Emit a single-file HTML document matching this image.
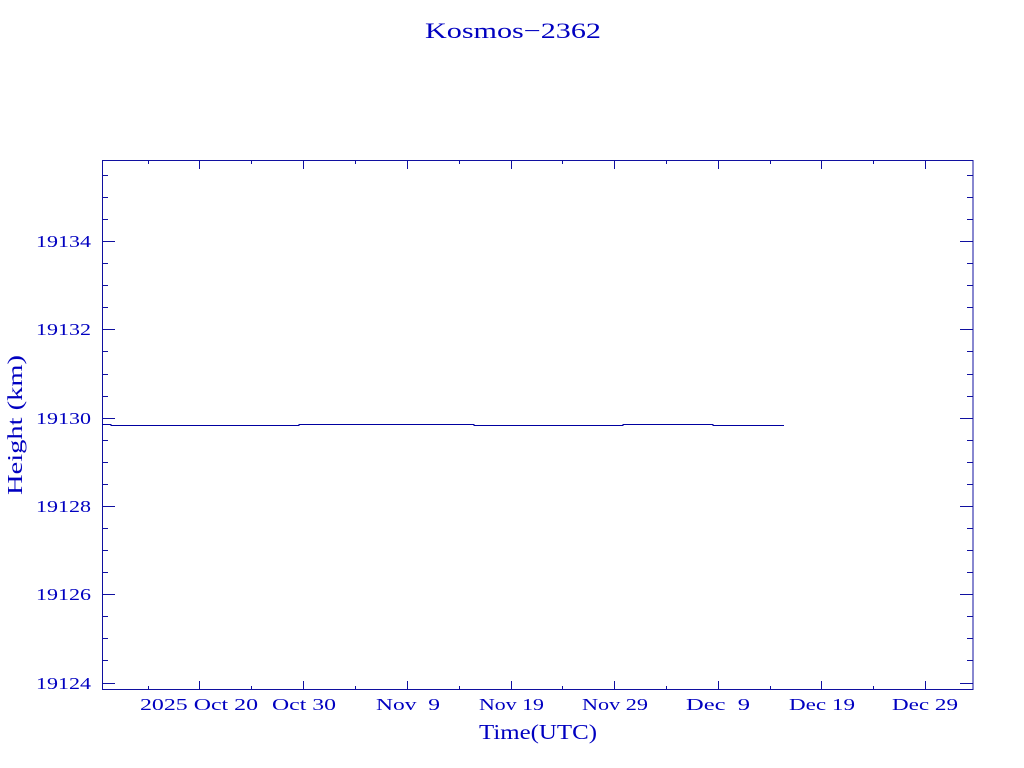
<!DOCTYPE html>
<html><head><style>body{margin:0;background:#fff}svg{display:block}</style></head><body>
<svg width="1024" height="768" xmlns="http://www.w3.org/2000/svg" font-family="Liberation Serif, serif" fill="#0000c0">
<rect width="1024" height="768" fill="#fff"/>
<g stroke="#1010a0" stroke-width="1" fill="none">
<rect x="102.5" y="160.5" width="870.5" height="529"/>
<path d="
M102 241.5h13M973 241.5h-13
M102 329.5h13M973 329.5h-13
M102 418.5h13M973 418.5h-13
M102 506.5h13M973 506.5h-13
M102 594.5h13M973 594.5h-13
M102 683.5h13M973 683.5h-13
M102 175.5h6M973 175.5h-6M102 197.5h6M973 197.5h-6M102 219.5h6M973 219.5h-6
M102 263.5h6M973 263.5h-6M102 285.5h6M973 285.5h-6M102 307.5h6M973 307.5h-6
M102 351.5h6M973 351.5h-6M102 374.5h6M973 374.5h-6M102 396.5h6M973 396.5h-6
M102 440.5h6M973 440.5h-6M102 462.5h6M973 462.5h-6M102 484.5h6M973 484.5h-6
M102 528.5h6M973 528.5h-6M102 550.5h6M973 550.5h-6M102 572.5h6M973 572.5h-6
M102 616.5h6M973 616.5h-6M102 638.5h6M973 638.5h-6M102 660.5h6M973 660.5h-6
M199.5 690v-9M199.5 160v9M303.5 690v-9M303.5 160v9M407.5 690v-9M407.5 160v9
M511.5 690v-9M511.5 160v9M614.5 690v-9M614.5 160v9M718.5 690v-9M718.5 160v9
M821.5 690v-9M821.5 160v9M925.5 690v-9M925.5 160v9
M148.5 690v-4M148.5 160v4M251.5 690v-4M251.5 160v4M355.5 690v-4M355.5 160v4
M459.5 690v-4M459.5 160v4M562.5 690v-4M562.5 160v4M666.5 690v-4M666.5 160v4
M770.5 690v-4M770.5 160v4M873.5 690v-4M873.5 160v4
"/>
<path stroke="#0000a0" d="M102 424.5h9v1h188v-1h175v1h149v-1h90v1h71"/>
</g>
<g font-size="17">
<text x="425" y="38" textLength="176" lengthAdjust="spacingAndGlyphs" font-size="22">Kosmos−2362</text>
<g text-anchor="end">
<text x="91" y="247" textLength="55" lengthAdjust="spacingAndGlyphs">19134</text>
<text x="91" y="335" textLength="55" lengthAdjust="spacingAndGlyphs">19132</text>
<text x="91" y="424" textLength="55" lengthAdjust="spacingAndGlyphs">19130</text>
<text x="91" y="512" textLength="55" lengthAdjust="spacingAndGlyphs">19128</text>
<text x="91" y="600" textLength="55" lengthAdjust="spacingAndGlyphs">19126</text>
<text x="91" y="689" textLength="55" lengthAdjust="spacingAndGlyphs">19124</text>
</g>
<text x="140" y="710" textLength="118" lengthAdjust="spacingAndGlyphs" xml:space="preserve">2025 Oct 20</text>
<text x="272" y="710" textLength="64" lengthAdjust="spacingAndGlyphs">Oct 30</text>
<text x="376" y="710" textLength="64" lengthAdjust="spacingAndGlyphs" xml:space="preserve">Nov  9</text>
<text x="479" y="710" textLength="65" lengthAdjust="spacingAndGlyphs">Nov 19</text>
<text x="582" y="710" textLength="66" lengthAdjust="spacingAndGlyphs">Nov 29</text>
<text x="686" y="710" textLength="64" lengthAdjust="spacingAndGlyphs" xml:space="preserve">Dec  9</text>
<text x="789" y="710" textLength="66" lengthAdjust="spacingAndGlyphs">Dec 19</text>
<text x="892" y="710" textLength="66" lengthAdjust="spacingAndGlyphs">Dec 29</text>
<text x="479" y="739" font-size="21" textLength="118" lengthAdjust="spacingAndGlyphs">Time(UTC)</text>
<text transform="translate(22,495) rotate(-90)" font-size="21" textLength="140" lengthAdjust="spacingAndGlyphs">Height (km)</text>
</g>
</svg>
</body></html>
